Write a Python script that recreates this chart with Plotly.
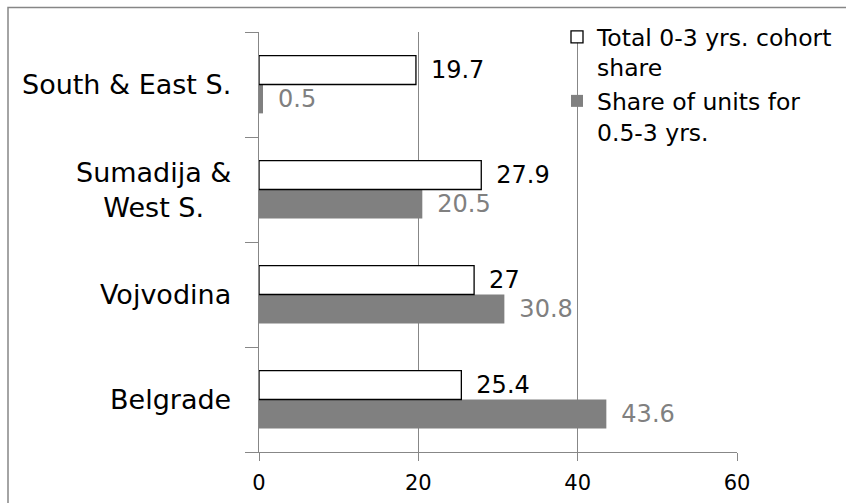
import plotly.graph_objects as go

categories = ["Belgrade", "Vojvodina", "Sumadija & West S.", "South & East S."]
category_labels = ["Belgrade", "Vojvodina", "Sumadija &<br>West S.", "South & East S."]
total_share = [25.4, 27, 27.9, 19.7]
units_share = [43.6, 30.8, 20.5, 0.5]
series_names = ["Total 0-3 yrs. cohort<br>share", "Share of units for<br>0.5-3 yrs."]
x_ticks = [0, 20, 40, 60]

W, H = 846, 503
L, R, T, B = 259, 737, 32, 452
FONT = "DejaVu Sans"
GRID = "#878787"

fig = go.Figure()
fig.add_trace(go.Bar(
    y=categories, x=units_share, orientation="h", name=series_names[1],
    marker=dict(color="#808080", line=dict(width=0)),
    texttemplate="\u2002%{x}", textposition="outside",
    textfont=dict(family=FONT, size=24, color="#808080"),
    cliponaxis=False, legendrank=2,
))
fig.add_trace(go.Bar(
    y=categories, x=total_share, orientation="h", name=series_names[0],
    marker=dict(color="white", line=dict(color="black", width=1.3)),
    texttemplate="\u2002%{x}", textposition="outside",
    textfont=dict(family=FONT, size=24, color="black"),
    cliponaxis=False, legendrank=1,
))

annotations = []
for c, lab in zip(categories, category_labels):
    annotations.append(dict(
        x=-(L - 233) / (R - L), xref="paper", y=c, yref="y",
        text=lab, showarrow=False, xanchor="right", yanchor="middle",
        align="center", font=dict(family=FONT, size=27, color="black"),
    ))

shapes = [dict(
    type="rect", xref="paper", yref="paper",
    x0=(8 - L) / (R - L), x1=(860 - L) / (R - L),
    y0=(B - 520) / (B - T), y1=(B - 7.5) / (B - T),
    line=dict(color="#868686", width=1.5), fillcolor="rgba(0,0,0,0)", layer="below",
)]

fig.update_layout(
    width=W, height=H,
    margin=dict(l=L, r=W - R, t=T, b=H - B, pad=0, autoexpand=False),
    paper_bgcolor="white", plot_bgcolor="white",
    font=dict(family=FONT, size=20, color="black"),
    barmode="group", bargap=0.45, bargroupgap=0,
    showlegend=True,
    legend=dict(
        x=(557 - L) / (R - L), y=(B - 15) / (B - T), xanchor="left", yanchor="top",
        bgcolor="rgba(0,0,0,0)", valign="top", tracegroupgap=0,
        font=dict(family=FONT, size=23.5, color="black"),
        itemwidth=30,
    ),
    annotations=annotations,
    shapes=shapes,
    xaxis=dict(
        range=[0, 60], tickvals=x_ticks, ticktext=[str(v) for v in x_ticks],
        showgrid=True, gridcolor=GRID, gridwidth=1.3,
        showline=True, linecolor=GRID, linewidth=1.3,
        ticks="outside", ticklen=8, tickcolor=GRID, tickwidth=1.3,
        ticklabelstandoff=4,
        zeroline=False, tickfont=dict(family=FONT, size=21, color="black"),
    ),
    yaxis=dict(
        type="category", categoryorder="array", categoryarray=categories,
        range=[-0.5, 3.5], showticklabels=False,
        tickson="boundaries", ticks="outside", ticklen=13, tickcolor=GRID, tickwidth=1.3,
        showline=True, linecolor=GRID, linewidth=1.3, showgrid=False, zeroline=False,
    ),
)

fig.write_html("out.html")
